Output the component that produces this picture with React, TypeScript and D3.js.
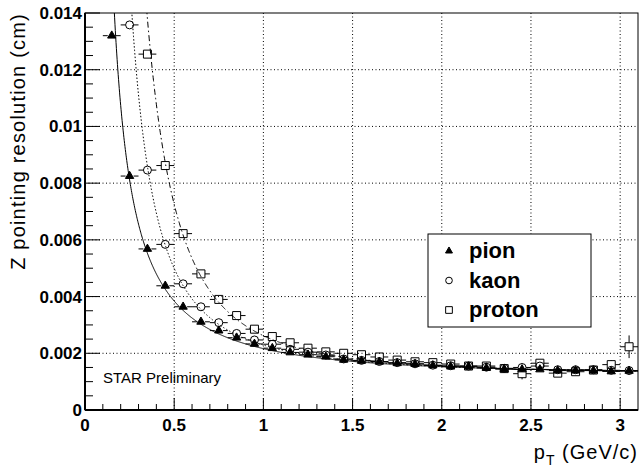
import React from "react";
import * as d3 from "d3";

// bin centres in pT (GeV/c), bin half width 0.05
const ptBins = [
  0.15, 0.25, 0.35, 0.45, 0.55, 0.65, 0.75, 0.85, 0.95, 1.05,
  1.15, 1.25, 1.35, 1.45, 1.55, 1.65, 1.75, 1.85, 1.95, 2.05,
  2.15, 2.25, 2.35, 2.45, 2.55, 2.65, 2.75, 2.85, 2.95, 3.05,
];

const pionZ = [
  0.0132, 0.00825, 0.00568, 0.00438, 0.00364, 0.00311, 0.0028, 0.00255, 0.00233, 0.00218,
  0.00203, 0.00195, 0.00188, 0.00177, 0.00173, 0.0017, 0.00165, 0.00162, 0.00157, 0.00153,
  0.00153, 0.00148, 0.00144, 0.00143, 0.00143, 0.00139, 0.00139, 0.00139, 0.00136, 0.00138,
];
const kaonZ = [
  null, 0.01358, 0.00846, 0.00584, 0.00445, 0.00364, 0.00308, 0.0027, 0.00247, 0.00232,
  0.00214, 0.00204, 0.00194, 0.0018, 0.00175, 0.00171, 0.00167, 0.00163, 0.00158, 0.00156,
  0.00155, 0.00151, 0.00147, 0.0015, 0.00155, 0.00142, 0.00142, 0.00142, 0.0014, 0.00139,
];
const protonZ = [
  null, null, 0.01255, 0.00862, 0.00622, 0.0048, 0.0039, 0.00333, 0.00285, 0.00259,
  0.00237, 0.00218, 0.00205, 0.002, 0.00195, 0.00187, 0.00176, 0.0017, 0.00167, 0.00162,
  0.00155, 0.00155, 0.00146, 0.00128, 0.00165, 0.0013, 0.00135, 0.00141, 0.0016, 0.00223,
];
const protonErr = [
  0, 0, 0.0001, 0.0001, 0.0001, 0.00008, 0.00006, 0.00005, 0.00005, 0.00005,
  0.00005, 0.00005, 0.00005, 0.00005, 0.00005, 0.00005, 0.00005, 0.00005, 0.00005, 0.00006,
  0.00006, 0.00007, 0.00008, 0.0002, 0.00012, 0.00012, 0.00012, 0.00014, 0.00016, 0.0004,
];

// fit: sqrt(a^2 + (b * sqrt(pT^2 + m^2) / pT^2)^2), one per species
const fitA = [0.00125, 0.00125, 0.00125];
const fitB = [0.00175, 0.00172, 0.00168];
const fitMass = [0.1396, 0.4937, 0.9383];

const xTicks = [0, 0.5, 1, 1.5, 2, 2.5, 3];
const yTicks = [0, 0.002, 0.004, 0.006, 0.008, 0.01, 0.012, 0.014];
const legendNames = ["pion", "kaon", "proton"];

const W = 639;
const H = 467;
const left = 85;
const right = 638;
const top = 13;
const bottom = 410;
const font = "'Liberation Sans', Arial, Helvetica, sans-serif";

const x = d3.scaleLinear().domain([0, 3.1]).range([left, right]);
const y = d3.scaleLinear().domain([0, 0.014]).range([bottom, top]);

const symbols = [d3.symbolTriangle, d3.symbolCircle, d3.symbolSquare];
const symbolSize = [30, 50, 64];
const filled = [true, false, false];
const curveDash = [undefined, "1.5,2", "6,3,1.5,3"];

export default function App() {
  const series = [pionZ, kaonZ, protonZ];
  const errs = [ptBins.map(() => 0), ptBins.map(() => 0), protonErr];

  const line = d3
    .line<[number, number]>()
    .x((d) => x(d[0]))
    .y((d) => y(d[1]));

  const fitPath = (i: number) => {
    const pts: [number, number][] = [];
    for (let p = 0.08; p <= 3.1; p += 0.002) {
      const f = (Math.sqrt(p * p + fitMass[i] * fitMass[i]) / (p * p)) * fitB[i];
      const v = Math.sqrt(fitA[i] * fitA[i] + f * f);
      pts.push([p, Math.min(v, 0.02)]);
    }
    return line(pts) || "";
  };

  const xMinor = d3.range(0, 31).map((k) => k / 10);
  const yMinor = d3.range(0, 29).map((k) => k * 0.0005);
  const half = 4;

  return (
    <svg
      width={W}
      height={H}
      style={{ position: "absolute", left: 0, top: 0, display: "block", background: "#fff" }}
      fontFamily={font}
    >
      <defs>
        <clipPath id="plotclip">
          <rect x={left} y={top} width={right - left} height={bottom - top} />
        </clipPath>
      </defs>
      <rect x={0} y={0} width={W} height={H} fill="#fff" />

      {/* grid */}
      {xTicks.slice(1).map((t) => (
        <line key={"gx" + t} x1={x(t)} x2={x(t)} y1={top} y2={bottom} stroke="#000" strokeWidth={1} strokeDasharray="1,2.5" />
      ))}
      {yTicks.slice(1, -1).map((t) => (
        <line key={"gy" + t} x1={left} x2={right} y1={y(t)} y2={y(t)} stroke="#000" strokeWidth={1} strokeDasharray="1,2.5" />
      ))}

      {/* ticks */}
      {xMinor.map((t, k) => (
        <line key={"tx" + k} x1={x(t)} x2={x(t)} y1={bottom} y2={bottom - (k % 5 === 0 ? 12 : 6)} stroke="#000" />
      ))}
      {yMinor.map((t, k) => (
        <line key={"ty" + k} x1={left} x2={left + (k % 4 === 0 ? 15 : 8)} y1={y(t)} y2={y(t)} stroke="#000" />
      ))}

      {/* fit curves */}
      <g clipPath="url(#plotclip)">
        {[0, 1, 2].map((i) => (
          <path key={"fit" + i} d={fitPath(i)} fill="none" stroke="#000" strokeWidth={1} strokeDasharray={curveDash[i]} />
        ))}
      </g>

      {/* points */}
      {series.map((vals, i) =>
        vals.map((v, k) => {
          if (v == null) return null;
          const cx = x(ptBins[k]);
          const cy = y(v);
          const xl = x(ptBins[k] - 0.05);
          const xr = x(ptBins[k] + 0.05);
          const e = errs[i][k];
          const yt = y(v + e);
          const yb = y(v - e);
          return (
            <g key={`p${i}-${k}`}>
              <line x1={xl} x2={cx - half} y1={cy} y2={cy} stroke="#000" />
              <line x1={cx + half} x2={xr} y1={cy} y2={cy} stroke="#000" />
              {cy - yt > half && <line x1={cx} x2={cx} y1={yt} y2={cy - half} stroke="#000" />}
              {yb - cy > half && <line x1={cx} x2={cx} y1={cy + half} y2={yb} stroke="#000" />}
              <path
                transform={`translate(${cx},${cy})`}
                d={d3.symbol(symbols[i], symbolSize[i])() || ""}
                fill={filled[i] ? "#000" : "none"}
                stroke="#000"
                strokeWidth={1}
              />
            </g>
          );
        })
      )}

      {/* frame */}
      <rect x={left} y={top} width={right - left} height={bottom - top} fill="none" stroke="#000" strokeWidth={1} />
      <line x1={left} x2={right} y1={bottom} y2={bottom} stroke="#000" strokeWidth={2} />
      <line x1={left} x2={left} y1={top} y2={bottom} stroke="#000" strokeWidth={2} />

      {/* tick labels */}
      {xTicks.map((t) => (
        <text key={"lx" + t} x={x(t)} y={431} textAnchor="middle" fontSize={17} fontWeight="bold">
          {String(t)}
        </text>
      ))}
      {yTicks.map((t) => (
        <text key={"ly" + t} x={82} y={y(t) + 6} textAnchor="end" fontSize={17} fontWeight="bold">
          {String(t)}
        </text>
      ))}

      {/* axis titles */}
      <text transform={`translate(25,${top}) rotate(-90)`} textAnchor="end" fontSize={20} letterSpacing={1.2}>
        Z pointing resolution (cm)
      </text>
      <text x={right} y={459} textAnchor="end" fontSize={20} letterSpacing={1}>
        p<tspan fontSize={14} dy={6}>T</tspan>
        <tspan dy={-6}> (GeV/c)</tspan>
      </text>

      <text x={103} y={383} fontSize={15}>
        STAR Preliminary
      </text>

      {/* legend */}
      <rect x={428} y={234} width={163} height={93} fill="#fff" stroke="#000" strokeWidth={1} />
      {legendNames.map((n, i) => {
        const ly = 251 + i * 29.5;
        return (
          <g key={"leg" + n}>
            <path
              transform={`translate(449,${ly})`}
              d={d3.symbol(symbols[i], symbolSize[i] * 0.7)() || ""}
              fill={filled[i] ? "#000" : "none"}
              stroke="#000"
            />
            <text x={469} y={ly + 7} fontSize={22} fontWeight="bold">
              {n}
            </text>
          </g>
        );
      })}
    </svg>
  );
}
